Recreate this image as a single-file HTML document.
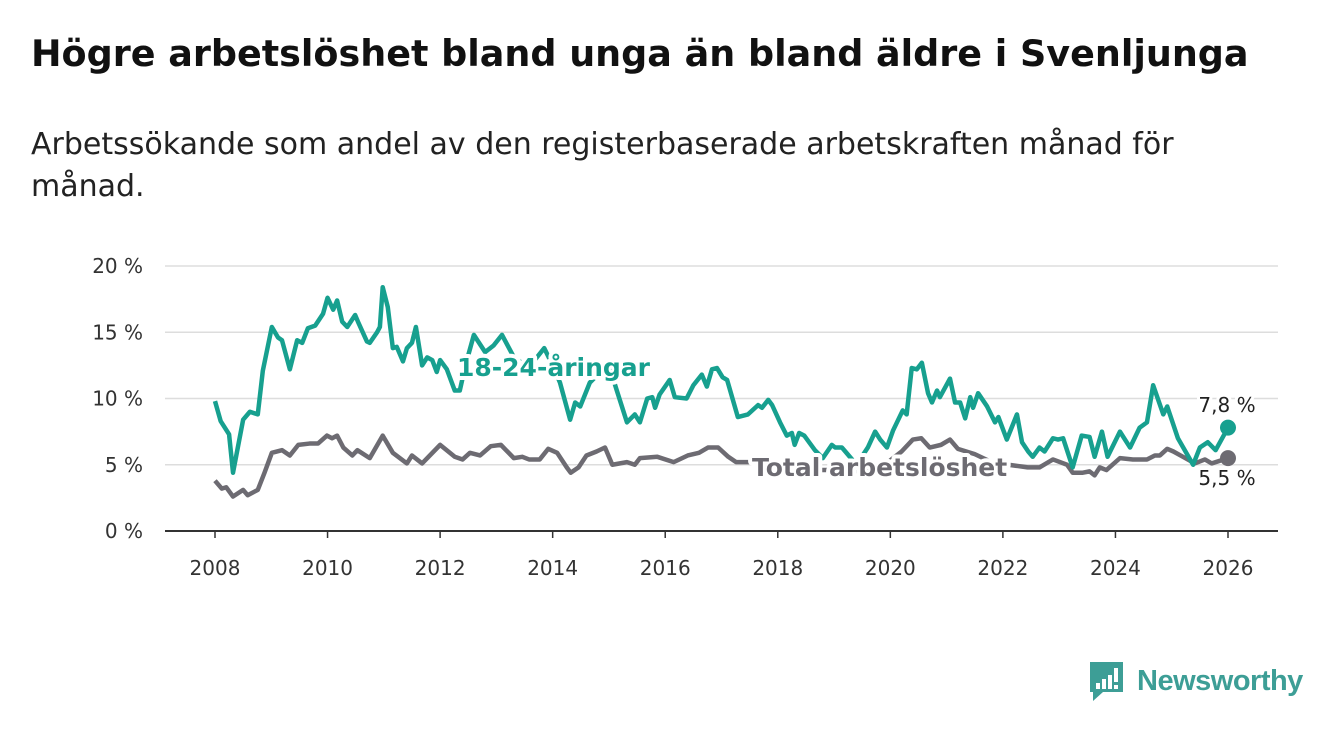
<!DOCTYPE html>
<html><head><meta charset="utf-8">
<style>
body{margin:0;width:1340px;height:734px;background:#fff;font-family:"Liberation Sans",sans-serif;overflow:hidden}
.t{position:absolute;left:31px;top:32px;font-size:36.5px;font-weight:bold;color:#111;font-family:"DejaVu Sans","Liberation Sans",sans-serif;letter-spacing:0}
.s{position:absolute;left:31px;top:124px;font-size:30px;color:#222;line-height:42px;width:1250px;font-family:"DejaVu Sans","Liberation Sans",sans-serif;letter-spacing:0}
svg{position:absolute;left:0;top:0}
</style></head><body>
<div class="t">Högre arbetslöshet bland unga än bland äldre i Svenljunga</div>
<div class="s">Arbetssökande som andel av den registerbaserade arbetskraften månad för<br>månad.</div>
<svg id="c" width="1340" height="734"></svg>
<script>
const yTicks=[0,5,10,15,20];
const yTickLabels=["0 %","5 %","10 %","15 %","20 %"];
const xTicks=[2008,2010,2012,2014,2016,2018,2020,2022,2024,2026];
const youthDates=[2008.0,2008.1,2008.25,2008.32,2008.5,2008.62,2008.76,2008.85,2009.01,2009.12,2009.19,2009.33,2009.46,2009.55,2009.65,2009.78,2009.92,2010.0,2010.1,2010.17,2010.26,2010.35,2010.49,2010.54,2010.7,2010.75,2010.88,2010.93,2010.98,2011.07,2011.16,2011.23,2011.34,2011.41,2011.5,2011.57,2011.68,2011.77,2011.86,2011.94,2012.0,2012.12,2012.26,2012.35,2012.45,2012.6,2012.8,2012.95,2013.1,2013.3,2013.5,2013.7,2013.85,2014.0,2014.13,2014.31,2014.4,2014.49,2014.66,2014.85,2015.0,2015.14,2015.32,2015.46,2015.55,2015.68,2015.77,2015.82,2015.9,2016.08,2016.17,2016.38,2016.5,2016.65,2016.74,2016.83,2016.92,2017.02,2017.1,2017.29,2017.47,2017.65,2017.72,2017.83,2017.9,2018.04,2018.16,2018.25,2018.3,2018.38,2018.47,2018.66,2018.8,2018.96,2019.02,2019.14,2019.2,2019.4,2019.6,2019.73,2019.82,2019.94,2020.05,2020.22,2020.29,2020.38,2020.47,2020.56,2020.67,2020.74,2020.83,2020.88,2021.06,2021.15,2021.24,2021.33,2021.42,2021.47,2021.56,2021.72,2021.86,2021.92,2022.07,2022.25,2022.34,2022.45,2022.53,2022.65,2022.74,2022.89,2022.98,2023.07,2023.24,2023.4,2023.54,2023.63,2023.76,2023.86,2024.08,2024.26,2024.43,2024.56,2024.67,2024.85,2024.92,2025.11,2025.38,2025.5,2025.64,2025.78,2026.0];
const youthValues=[9.8,8.3,7.3,4.4,8.4,9.0,8.8,12.1,15.4,14.6,14.4,12.2,14.4,14.2,15.3,15.5,16.4,17.6,16.7,17.4,15.8,15.4,16.3,15.8,14.3,14.2,15.0,15.4,18.4,16.9,13.8,13.9,12.8,13.8,14.2,15.4,12.5,13.1,12.9,12.0,12.9,12.2,10.6,10.6,12.5,14.8,13.5,14.0,14.8,13.2,12.5,13.0,13.8,12.5,11.2,8.4,9.7,9.4,11.2,12.0,12.5,10.6,8.2,8.8,8.2,10.0,10.1,9.3,10.3,11.4,10.1,10.0,11.0,11.8,10.9,12.2,12.3,11.6,11.4,8.6,8.8,9.5,9.3,9.9,9.5,8.2,7.2,7.4,6.5,7.4,7.2,6.1,5.5,6.5,6.3,6.3,6.0,5.0,6.3,7.5,6.9,6.3,7.6,9.1,8.8,12.3,12.2,12.7,10.4,9.7,10.6,10.1,11.5,9.7,9.7,8.5,10.1,9.3,10.4,9.4,8.2,8.6,6.9,8.8,6.7,6.0,5.6,6.3,6.0,7.0,6.9,7.0,4.8,7.2,7.1,5.6,7.5,5.6,7.5,6.3,7.8,8.2,11.0,8.8,9.4,7.0,5.0,6.3,6.7,6.1,7.8];
const totalDates=[2008.0,2008.12,2008.2,2008.32,2008.5,2008.58,2008.76,2008.88,2009.01,2009.19,2009.33,2009.48,2009.68,2009.83,2009.99,2010.08,2010.17,2010.28,2010.44,2010.53,2010.75,2010.98,2011.16,2011.41,2011.5,2011.68,2012.0,2012.26,2012.4,2012.53,2012.71,2012.9,2013.08,2013.31,2013.46,2013.58,2013.77,2013.92,2014.08,2014.25,2014.32,2014.46,2014.6,2014.78,2014.93,2015.06,2015.32,2015.46,2015.55,2015.86,2016.15,2016.4,2016.6,2016.76,2016.94,2017.12,2017.26,2017.5,2017.8,2018.2,2018.6,2019.0,2019.5,2019.9,2020.2,2020.4,2020.55,2020.7,2020.9,2021.06,2021.2,2021.5,2021.8,2022.1,2022.44,2022.65,2022.89,2023.14,2023.24,2023.42,2023.54,2023.63,2023.72,2023.84,2024.08,2024.31,2024.56,2024.7,2024.79,2024.92,2025.03,2025.2,2025.41,2025.59,2025.71,2026.0];
const totalValues=[3.8,3.2,3.3,2.6,3.1,2.7,3.1,4.4,5.9,6.1,5.7,6.5,6.6,6.6,7.2,7.0,7.2,6.3,5.7,6.1,5.5,7.2,5.9,5.1,5.7,5.1,6.5,5.6,5.4,5.9,5.7,6.4,6.5,5.5,5.6,5.4,5.4,6.2,5.9,4.8,4.4,4.8,5.7,6.0,6.3,5.0,5.2,5.0,5.5,5.6,5.2,5.7,5.9,6.3,6.3,5.6,5.2,5.2,5.0,4.8,4.6,4.6,4.5,5.0,6.0,6.9,7.0,6.3,6.5,6.9,6.2,5.8,5.2,5.0,4.8,4.8,5.4,5.0,4.4,4.4,4.5,4.2,4.8,4.6,5.5,5.4,5.4,5.7,5.7,6.2,6.0,5.6,5.1,5.4,5.1,5.5];

const svg=document.getElementById('c');
const NS='http://www.w3.org/2000/svg';
const X0=215,X1=1228,Y0=531,Y1=266;
function xs(y){return X0+(y-2008)/(2026-2008)*(X1-X0);}
function ys(v){return Y0-v/20*(Y0-Y1);}
function mk(t,a,p){const e=document.createElementNS(NS,t);for(const k in a)e.setAttribute(k,a[k]);(p||svg).appendChild(e);return e;}
const F='"DejaVu Sans","Liberation Sans",sans-serif';
yTicks.forEach((v,i)=>{
  const g=mk('line',{x1:165,x2:1278,y1:ys(v),y2:ys(v),stroke:v===0?'#333':'#ddd','stroke-width':v===0?2:1.5});
  
  
  const t=mk('text',{x:143,y:ys(v)+7,'text-anchor':'end','font-size':20,fill:'#333','font-family':F});
  t.textContent=yTickLabels[i];
  
  
});
xTicks.forEach(yr=>{
  const l=mk('line',{x1:xs(yr),x2:xs(yr),y1:Y0,y2:Y0+7,stroke:'#333','stroke-width':1.5});
  
  
  const t=mk('text',{x:xs(yr),y:575,'text-anchor':'middle','font-size':20,fill:'#333','font-family':F});
  t.textContent=yr;
  
  
});
function line(d,v,c,name){
  const p=mk('polyline',{points:d.map((y,i)=>xs(y)+','+ys(v[i])).join(' '),fill:'none',stroke:c,'stroke-width':4.5,'stroke-linejoin':'round'});
  
  
}
const TEAL='#17a08f',GRAY='#6d6b72';
line(totalDates,totalValues,GRAY,'total-line');
line(youthDates,youthValues,TEAL,'youth-line');
const d1=mk('circle',{cx:xs(youthDates[youthDates.length-1]),cy:ys(youthValues[youthValues.length-1]),r:8,fill:TEAL});


const d2=mk('circle',{cx:xs(totalDates[totalDates.length-1]),cy:ys(totalValues[totalValues.length-1]),r:8,fill:GRAY});


function lab(x,y,txt,c,name,bold,anchor,size){
  const t=mk('text',{x:x,y:y,fill:c,'font-size':size,'font-weight':bold?'bold':'normal','font-family':F,stroke:'#fff','stroke-width':bold?8:6,'paint-order':'stroke','stroke-linejoin':'round','text-anchor':anchor});
  t.textContent=txt;
  
  
}
lab(457,376,'18-24-åringar',TEAL,'youth-series-label',true,'start',25);
lab(752,476,'Total arbetslöshet',GRAY,'total-series-label',true,'start',25);
lab(1227,412,'7,8 %','#222','youth-end-value',false,'middle',20);
lab(1227,485,'5,5 %','#222','total-end-value',false,'middle',20);
</script>
<svg width="1340" height="734" style="pointer-events:none">
<path d="M1090 662 h33 v30 h-20 l-10 9 v-9 h-3 z" fill="#3d9e96"/>
<rect x="1096" y="683" width="4" height="6" fill="#fff"/>
<rect x="1102" y="679" width="4" height="10" fill="#fff"/>
<rect x="1108" y="675" width="4" height="14" fill="#fff"/>
<rect x="1114" y="668" width="4" height="14" fill="#fff"/>
<rect x="1114" y="685" width="4" height="4" fill="#fff"/>
<text x="1137" y="690" font-size="29" fill="#3d9e96" font-family='"Liberation Sans",sans-serif' font-weight="bold" letter-spacing="-0.5">Newsworthy</text>
</svg>
</body></html>
